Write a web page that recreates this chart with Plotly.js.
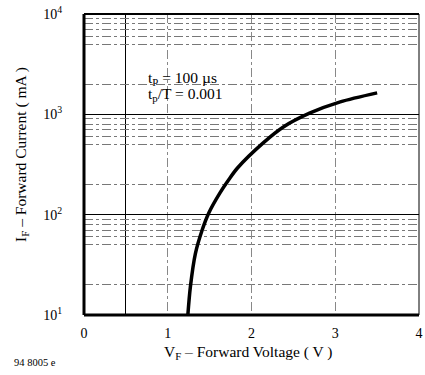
<!DOCTYPE html>
<html>
<head>
<meta charset="utf-8">
<script src="https://cdn.plot.ly/plotly-3.0.1.min.js"></script>
<style>html,body{margin:0;padding:0;background:#fff;}#chart{width:425px;height:375px;}</style>
</head>
<body>
<div id="chart"></div>
<script>
// Forward voltage (V) and forward current (mA)
const forwardVoltage = [1.24, 1.27, 1.33, 1.41, 1.49, 1.62, 1.73, 1.83, 2.14, 2.38, 2.70, 3.06, 3.50];
const forwardCurrent = [10, 19, 41, 70, 104, 163, 224, 290, 519, 748, 1032, 1330, 1635];

const xTickVals = [0, 1, 2, 3, 4];
const xTickText = ['0', '1', '2', '3', '4'];
const yTickVals = [10, 100, 1000, 10000];
const yTickText = ['10<sup>1</sup>', '10<sup>2</sup>', '10<sup>3</sup>', '10<sup>4</sup>'];
const yMinorGrid = [20, 50, 60, 70, 80, 90, 200, 500, 600, 700, 800, 900, 2000, 5000, 6000, 7000, 8000, 9000];
const xMinorGrid = [0.5];

const xTitle = 'V<sub>F</sub> – Forward Voltage ( V )';
const yTitle = 'I<sub>F</sub> – Forward Current ( mA )';
const noteLine1 = 't<sub>P</sub> = 100 µs';
const noteLine2 = 't<sub>p</sub>/T = 0.001';
const figureCode = '94 8005 e';

const serif = 'Liberation Serif, Times New Roman, serif';

const trace = {
  x: forwardVoltage,
  y: forwardCurrent,
  type: 'scatter',
  mode: 'lines',
  line: {color: '#000', width: 3.5, shape: 'spline', smoothing: 0.8},
  hoverinfo: 'skip'
};

const layout = {
  width: 425, height: 375,
  margin: {l: 84, r: 6, t: 14, b: 60},
  paper_bgcolor: '#fff', plot_bgcolor: '#fff',
  showlegend: false,
  font: {family: serif, color: '#000', size: 14},
  xaxis: {
    range: [0, 4],
    tickmode: 'array', tickvals: xTickVals, ticktext: xTickText,
    ticks: 'outside', ticklen: 5, tickcolor: 'rgba(0,0,0,0)',
    showgrid: true, gridcolor: '#888', gridwidth: 1, griddash: 'dashdot',
    zeroline: false, showline: false,
    tickfont: {family: serif, size: 14},
    minor: {tickmode: 'array', tickvals: xMinorGrid, showgrid: true, gridcolor: '#000', gridwidth: 1, griddash: 'solid', ticks: ''}
  },
  yaxis: {
    type: 'log', range: [1, 4],
    tickmode: 'array', tickvals: yTickVals, ticktext: yTickText,
    ticks: 'outside', ticklen: 18, tickcolor: 'rgba(0,0,0,0)',
    showgrid: true, gridcolor: '#000', gridwidth: 1.5,
    zeroline: false, showline: false,
    tickfont: {family: serif, size: 14},
    minor: {tickmode: 'array', tickvals: yMinorGrid, showgrid: true, gridcolor: '#777', gridwidth: 1, griddash: 'dashdot', ticks: ''}
  },
  shapes: [
    {type: 'line', xref: 'paper', yref: 'paper', x0: 0, x1: 0, y0: 0, y1: 1, line: {color: '#000', width: 3}},
    {type: 'line', xref: 'paper', yref: 'paper', x0: 0, x1: 1, y0: 0, y1: 0, line: {color: '#000', width: 3}},
    {type: 'line', xref: 'paper', yref: 'paper', x0: 0, x1: 1, y0: 1, y1: 1, line: {color: '#000', width: 2}},
    {type: 'line', xref: 'paper', yref: 'paper', x0: 1, x1: 1, y0: 0, y1: 1, line: {color: '#000', width: 1}}
  ],
  annotations: [
    {xref: 'paper', yref: 'paper', x: 0.185, y: 0.786, xanchor: 'left', yanchor: 'middle', showarrow: false,
     text: noteLine1, font: {family: serif, size: 15.5, color: '#000'}},
    {xref: 'paper', yref: 'paper', x: 0.185, y: 0.733, xanchor: 'left', yanchor: 'middle', showarrow: false,
     text: noteLine2, font: {family: serif, size: 15.5, color: '#000'}},
    {xref: 'paper', yref: 'paper', x: 0.49, y: -0.125, xanchor: 'center', yanchor: 'middle', showarrow: false,
     text: xTitle, font: {family: serif, size: 15.5, color: '#000'}},
    {xref: 'paper', yref: 'paper', x: -0.185, y: 0.532, xanchor: 'center', yanchor: 'middle', showarrow: false,
     textangle: -90, text: yTitle, font: {family: serif, size: 15.5, color: '#000'}},
    {xref: 'paper', yref: 'paper', x: -0.215, y: -0.159, xanchor: 'left', yanchor: 'middle', showarrow: false,
     text: figureCode, font: {family: serif, size: 10.5, color: '#000'}}
  ]
};

Plotly.newPlot('chart', [trace], layout, {staticPlot: true, displayModeBar: false});
</script>
</body>
</html>
